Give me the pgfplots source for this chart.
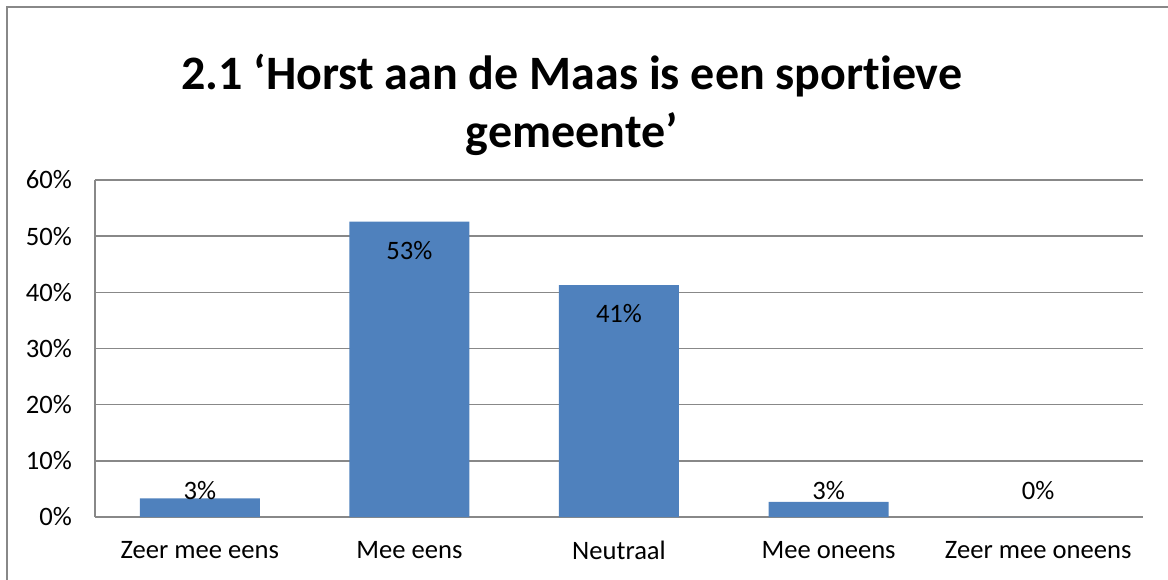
\documentclass[border=0pt]{standalone}
\usepackage{fontspec}
\setmainfont{Carlito}[Ligatures={NoCommon}]
\usepackage{pgfplots}
\pgfplotsset{compat=1.18}
\definecolor{barblue}{HTML}{4F81BD}
\definecolor{gridgray}{HTML}{888888}
\begin{document}
\begin{tikzpicture}
\useasboundingbox (-47.5pt,-31pt) rectangle (536.5pt,258.5pt);
\draw[gridgray, line width=1pt] (-44pt,-40pt) -- (-44pt,255pt) -- (545pt,255pt);
\begin{axis}[
  at={(0pt,0pt)}, anchor=south west,
  scale only axis, width=524pt, height=168.5pt,
  xmin=-0.5, xmax=4.5, ymin=0, ymax=60,
  xtick={0,1,2,3,4},
  xticklabels={Zeer mee eens, Mee eens, Neutraal, Mee oneens, Zeer mee oneens},
  ytick={0,10,20,30,40,50,60},
  yticklabel={\pgfmathprintnumber{\tick}\%},
  /pgf/number format/assume math mode=true,
  ticklabel style={font=\fontsize{13.3pt}{15pt}\selectfont},
  xticklabel style={yshift=-8.5pt},
  yticklabel style={xshift=-8pt},
  major tick length=0pt,
  axis x line*=bottom, axis y line*=left,
  axis line style={gridgray, line width=0.8pt},
  ymajorgrids, grid style={gridgray, line width=0.8pt},
  every outer x axis line/.append style={-}, every outer y axis line/.append style={-},
  title={2.1 ‘Horst aan de Maas is een sportieve\\ gemeente’},
  title style={font=\fontsize{24pt}{29pt}\selectfont\bfseries, align=center, at={(0.455,1)}, yshift=2.5pt},
  clip=false,
]
\addplot[ybar, bar width=60pt, fill=barblue, draw=none]
  coordinates {(0,3.3) (1,52.6) (2,41.3) (3,2.7) (4,0)};
\addplot[only marks, mark=none, nodes near coords, point meta=explicit symbolic,
  every node near coord/.style={anchor=center, font=\fontsize{13.3pt}{15pt}\selectfont}]
  table[meta=label] {
x y label
0 4.8 3\%
1 47.4 53\%
2 36.2 41\%
3 4.8 3\%
4 4.8 0\%
};
\end{axis}
\end{tikzpicture}
\end{document}
